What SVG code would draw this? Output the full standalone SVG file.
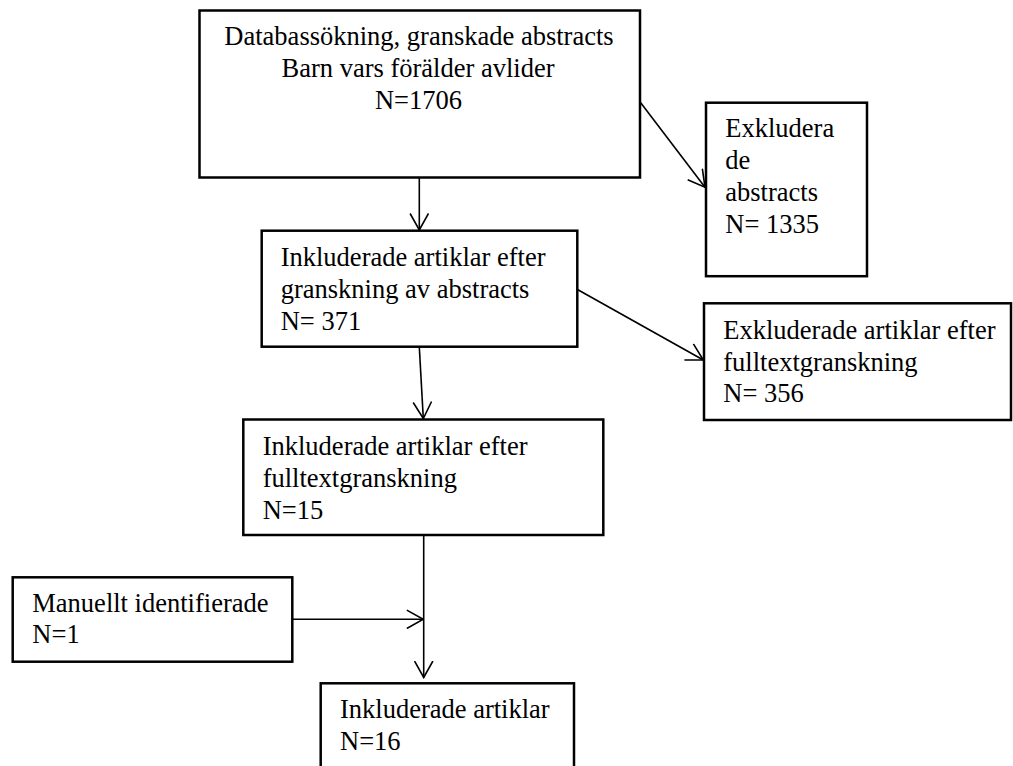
<svg xmlns="http://www.w3.org/2000/svg" width="1013" height="766" viewBox="0 0 1013 766">
  <style>
    .box { fill: #ffffff; stroke: #000000; stroke-width: 2.5; }
    .lbl { font-family: "Liberation Serif", "Times New Roman", serif; font-size: 26.5px; fill: #000000; }
    .conn { stroke: #000000; stroke-width: 1.6; fill: none; marker-end: url(#arr); }
  </style>
  <defs>
    <marker id="arr" viewBox="0 0 18 20" refX="17" refY="10" markerWidth="18" markerHeight="20" markerUnits="userSpaceOnUse" orient="auto">
      <path d="M0.5,0.8 L17,10 L0.5,19.2" fill="none" stroke="#000000" stroke-width="1.6"/>
    </marker>
  </defs>
  <rect width="1013" height="766" fill="#ffffff"/>

  <g id="connectors">
    <line class="conn" x1="419.3" y1="177.5" x2="419.3" y2="230"/>
    <line class="conn" x1="640.7" y1="102.7" x2="705" y2="187.3"/>
    <line class="conn" x1="419.3" y1="347" x2="423.3" y2="418.5"/>
    <line class="conn" x1="577" y1="289.3" x2="703.3" y2="360"/>
    <line class="conn" x1="423.7" y1="535" x2="423.7" y2="677.5"/>
    <line class="conn" x1="292.3" y1="619.3" x2="423.3" y2="619.3"/>
  </g>

  <g id="node-databas">
    <rect class="box" x="199.5" y="10.5" width="440.5" height="167"/>
    <text class="lbl" text-anchor="middle" x="419" y="45">Databassökning, granskade abstracts</text>
    <text class="lbl" text-anchor="middle" x="418" y="77">Barn vars förälder avlider</text>
    <text class="lbl" text-anchor="middle" x="418.5" y="108.5">N=1706</text>
  </g>

  <g id="node-exkl-abstracts">
    <rect class="box" x="706" y="102.7" width="161" height="173.5"/>
    <text class="lbl" x="725.3" y="137.3">Exkludera</text>
    <text class="lbl" x="725.3" y="169">de</text>
    <text class="lbl" x="725.3" y="200.5">abstracts</text>
    <text class="lbl" x="725.3" y="232.5">N= 1335</text>
  </g>

  <g id="node-inkl-abstracts">
    <rect class="box" x="261.7" y="230.7" width="315.6" height="116"/>
    <text class="lbl" x="280.7" y="266">Inkluderade artiklar efter</text>
    <text class="lbl" x="280.7" y="297.7">granskning av abstracts</text>
    <text class="lbl" x="280.7" y="330">N= 371</text>
  </g>

  <g id="node-exkl-fulltext">
    <rect class="box" x="704" y="303.3" width="307" height="116.7"/>
    <text class="lbl" x="723.3" y="339.3">Exkluderade artiklar efter</text>
    <text class="lbl" x="723.3" y="370.7">fulltextgranskning</text>
    <text class="lbl" x="723.3" y="402.3">N= 356</text>
  </g>

  <g id="node-inkl-fulltext">
    <rect class="box" x="243.3" y="419.5" width="360" height="115.5"/>
    <text class="lbl" x="262.7" y="455">Inkluderade artiklar efter</text>
    <text class="lbl" x="262.7" y="486.7">fulltextgranskning</text>
    <text class="lbl" x="262.7" y="519.3">N=15</text>
  </g>

  <g id="node-manuellt">
    <rect class="box" x="12.7" y="577.3" width="279.6" height="84.4"/>
    <text class="lbl" x="32.3" y="611.7">Manuellt identifierade</text>
    <text class="lbl" x="32.3" y="643.3">N=1</text>
  </g>

  <g id="node-inkl-final">
    <rect class="box" x="320.7" y="683.3" width="253.3" height="100"/>
    <text class="lbl" x="340" y="718">Inkluderade artiklar</text>
    <text class="lbl" x="340" y="750.3">N=16</text>
  </g>
</svg>
